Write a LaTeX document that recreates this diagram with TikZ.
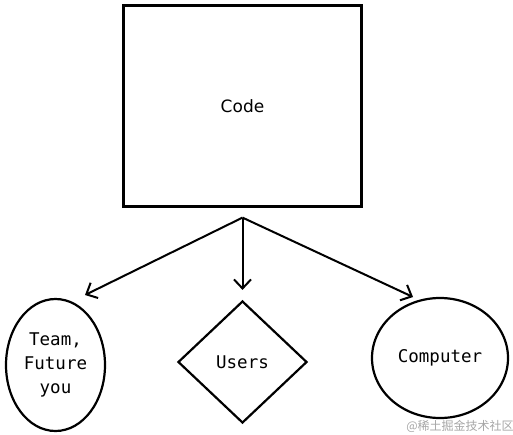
\documentclass[tikz,border=0pt]{standalone}
\usepackage{fontspec}
\setmonofont{DejaVu Sans Mono}
\setsansfont{DejaVu Sans}
\newfontfamily\cjkfont{Noto Sans CJK SC}
\usepackage{xcolor}
\usepackage{tikz}
\usetikzlibrary{shapes.geometric,arrows.meta}

\begin{document}
\begin{tikzpicture}[
    x=1pt,y=-1pt,
    every node/.style={draw,line width=2.2pt,inner sep=0pt,align=center,
      font=\ttfamily\fontsize{17.5}{24}\selectfont},
    link/.style={line width=2pt,-{Straight Barb[length=9pt,width=17pt,line width=2pt]}}
  ]
    \useasboundingbox (0,0) rectangle (513,434);
    \node[rectangle,minimum width=238pt,minimum height=201pt,
      font=\sffamily\fontsize{17}{20}\selectfont] (code) at (242.5,106) {Code};
    \node[ellipse,minimum width=99pt,minimum height=132pt] (team) at (55.5,365) {Team,\\Future\\you};
    \node[diamond,minimum width=129pt,minimum height=122pt] (users) at (242.5,362) {Users};
    \node[ellipse,minimum width=136pt,minimum height=120pt] (computer) at (440,358) {Computer};
    \node[draw=none,text=black!35,font=\cjkfont\fontsize{12}{14}\selectfont] (mark) at (460,426) {@稀土掘金技术社区};
    \coordinate (fork) at ([yshift=-10pt]code.south);
    \coordinate (team-in) at (85,295);
    \coordinate (computer-in) at (413,297);
    \draw[link] (fork) -- (team-in);
    \draw[link,shorten >=10pt] (fork) -- (users.north);
    \draw[link] (fork) -- (computer-in);
  \end{tikzpicture}
\end{document}
